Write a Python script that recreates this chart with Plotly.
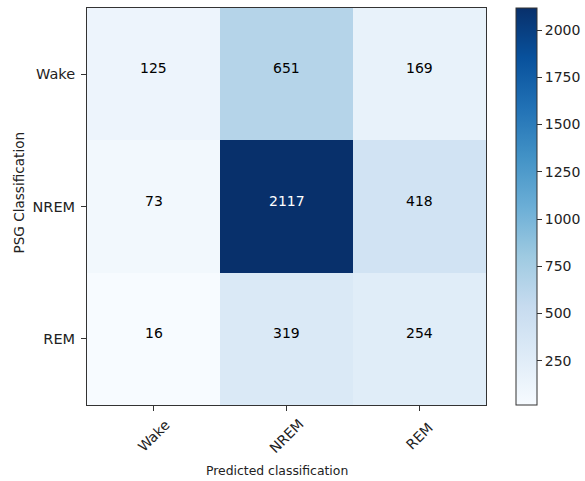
import plotly.graph_objects as go
import plotly.colors as pc

classes = ["Wake", "NREM", "REM"]
predicted = ["Wake", "NREM", "REM"]
counts_wake = [125, 651, 169]
counts_nrem = [73, 2117, 418]
counts_rem = [16, 319, 254]
z = [counts_wake, counts_nrem, counts_rem]
cbar_ticks = [250, 500, 750, 1000, 1250, 1500, 1750, 2000]

W, H = 585, 481
L, R, T, B = 87, 99, 8, 76
pw, ph = W - L - R, H - T - B
FONT = "DejaVu Sans"
TXT = "#222222"

zmin = min(min(r) for r in z)
zmax = max(max(r) for r in z)
thresh = zmax / 2.0

fig = go.Figure(go.Heatmap(
    z=z, x=predicted, y=classes,
    colorscale=pc.sequential.Blues,
    zmin=zmin, zmax=zmax,
    hoverinfo="skip",
    colorbar=dict(
        x=(516 - L) / pw, xanchor="left",
        y=0.5, yanchor="middle", len=1.0, lenmode="fraction",
        thickness=21, thicknessmode="pixels",
        outlinewidth=1, outlinecolor="#333333",
        tickvals=cbar_ticks, ticks="outside", ticklen=5, tickcolor="#333333",
        tickfont=dict(family=FONT, size=14, color=TXT),
        xpad=0, ypad=0,
    ),
))

annotations = []
for i, row_label in enumerate(classes):
    for j, col_label in enumerate(predicted):
        v = z[i][j]
        annotations.append(dict(
            x=col_label, xref="x", y=row_label, yref="y",
            text=str(v), showarrow=False, yshift=6,
            xanchor="center", yanchor="middle",
            font=dict(family=FONT, size=14,
                      color="white" if v > thresh else "black"),
        ))
for c in predicted:
    annotations.append(dict(
        x=c, xref="x", y=-31 / ph, yref="paper",
        text=c, textangle=-45, showarrow=False,
        xanchor="center", yanchor="middle",
        font=dict(family=FONT, size=14, color=TXT),
    ))
annotations.append(dict(
    x=(277 - L) / pw, xref="paper", y=(H - B - 470) / ph, yref="paper",
    text="Predicted classification", showarrow=False,
    xanchor="center", yanchor="middle",
    font=dict(family=FONT, size=12.4, color=TXT),
))
annotations.append(dict(
    x=(18 - L) / pw, xref="paper", y=(H - B - 192.5) / ph, yref="paper",
    text="PSG Classification", textangle=-90, showarrow=False,
    xanchor="center", yanchor="middle",
    font=dict(family=FONT, size=13.6, color=TXT),
))

fig.update_layout(
    width=W, height=H,
    margin=dict(l=L, r=R, t=T, b=B, pad=0, autoexpand=False),
    paper_bgcolor="white", plot_bgcolor="white",
    annotations=annotations,
    xaxis=dict(
        range=[-0.5, 2.5], showgrid=False, zeroline=False,
        showline=True, mirror=True, linecolor="#333333", linewidth=1,
        ticks="outside", ticklen=5, tickcolor="#333333",
        showticklabels=False,
    ),
    yaxis=dict(
        range=[2.5, -0.5], showgrid=False, zeroline=False,
        showline=True, mirror=True, linecolor="#333333", linewidth=1,
        ticks="outside", ticklen=5, tickcolor="#333333",
        ticklabelstandoff=3,
        tickfont=dict(family=FONT, size=14.5, color=TXT),
    ),
)

fig.write_html("out.html")
